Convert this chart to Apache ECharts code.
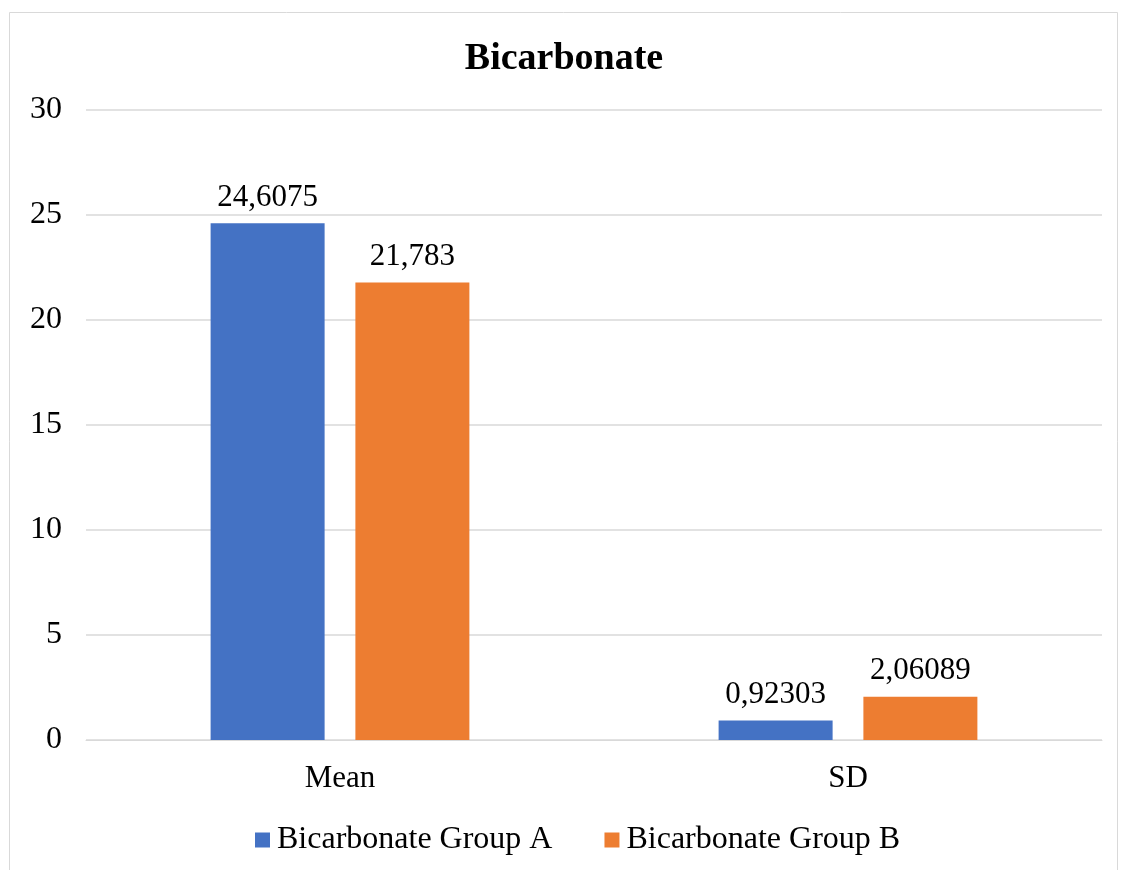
<!DOCTYPE html>
<html>
<head>
<meta charset="utf-8">
<title>Bicarbonate</title>
<script src="https://cdn.jsdelivr.net/npm/echarts@6/dist/echarts.min.js"></script>
<style>
  html, body { margin: 0; padding: 0; background: #fff; }
  #chart { width: 1128px; height: 870px; }
</style>
</head>
<body>
<div id="chart"></div>
<script>
var categories = ['Mean', 'SD'];
var groupA = [24.6075, 0.92303];
var groupB = [21.783, 2.06089];
var yTicks = [0, 5, 10, 15, 20, 25, 30];

var serif = '"Liberation Serif", "Times New Roman", serif';

function commaLabel(p) {
    // decimal comma, as in the original
    return String(p.value).replace('.', ',');
}

var chart = echarts.init(document.getElementById('chart'));

var option = {
    backgroundColor: '#fff',
    animation: false,
    graphic: [{
        type: 'rect',
        shape: { x: 9.5, y: 12.5, width: 1108, height: 870 },
        style: { fill: 'none', stroke: '#d9d9d9', lineWidth: 1 }
    }],
    title: {
        text: 'Bicarbonate',
        left: 'center',
        top: 35,
        textStyle: { fontFamily: serif, fontSize: 38, fontWeight: 'bold', color: '#000' }
    },
    legend: {
        top: 819,
        left: 250,
        itemWidth: 15,
        itemHeight: 15,
        itemGap: 52,
        icon: 'rect',
        textStyle: { fontFamily: serif, fontSize: 32, color: '#000', padding: [0, 0, 0, 2] }
    },
    grid: { left: 86, right: 26, top: 110, bottom: 130 },
    xAxis: {
        type: 'category',
        data: categories,
        axisLine: { lineStyle: { color: '#d9d9d9', width: 1 } },
        axisTick: { show: false },
        axisLabel: { fontFamily: serif, fontSize: 31, color: '#000', margin: 23 }
    },
    yAxis: {
        type: 'value',
        min: yTicks[0],
        max: yTicks[yTicks.length - 1],
        interval: 5,
        axisLine: { show: false },
        axisTick: { show: false },
        splitLine: { lineStyle: { color: '#d9d9d9', width: 1.5 } },
        axisLabel: { fontFamily: serif, fontSize: 32, color: '#000', margin: 24, padding: [7, 0, 0, 0] }
    },
    series: [
        {
            name: 'Bicarbonate Group A',
            type: 'bar',
            data: groupA,
            barWidth: 114,
            barGap: '27%',
            itemStyle: { color: '#4472C4' },
            label: { show: true, position: 'top', distance: 10, formatter: commaLabel,
                fontFamily: serif, fontSize: 31, color: '#000' }
        },
        {
            name: 'Bicarbonate Group B',
            type: 'bar',
            data: groupB,
            barWidth: 114,
            itemStyle: { color: '#ED7D31' },
            label: { show: true, position: 'top', distance: 10, formatter: commaLabel,
                fontFamily: serif, fontSize: 31, color: '#000' }
        }
    ]
};

chart.setOption(option);
</script>
</body>
</html>
